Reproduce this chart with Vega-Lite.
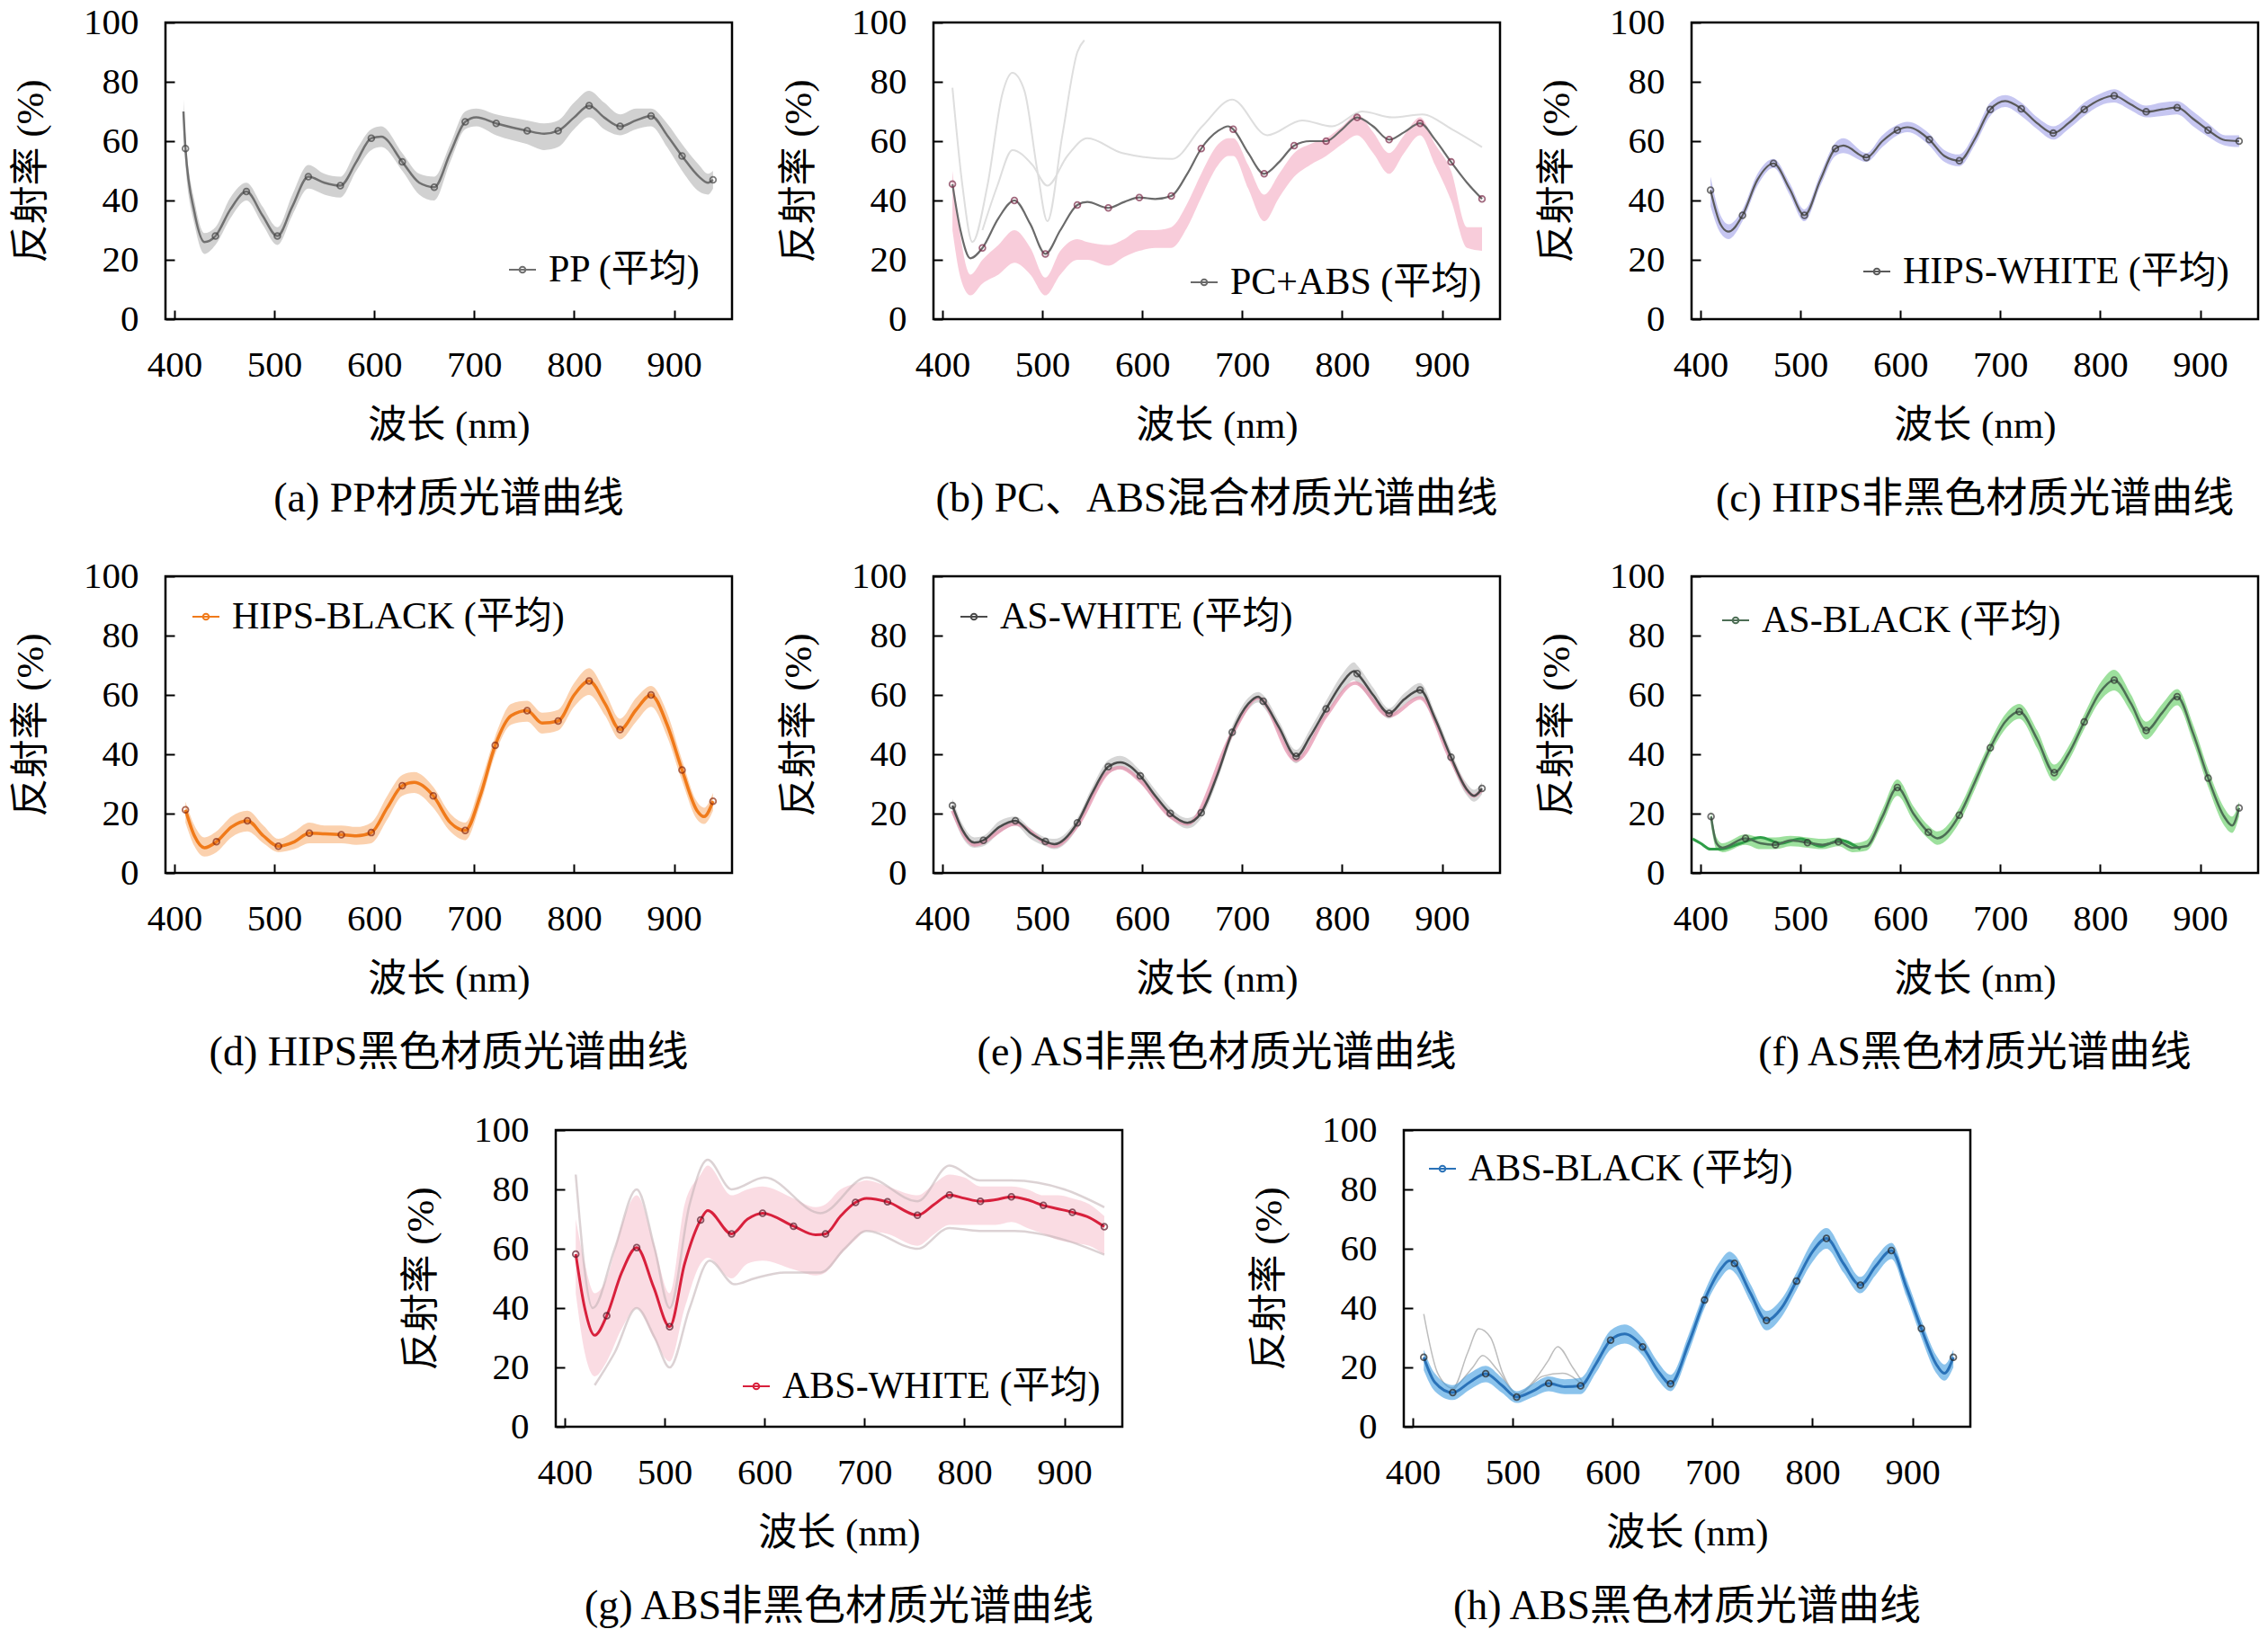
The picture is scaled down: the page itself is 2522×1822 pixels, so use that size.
{
  "$schema": "https://vega.github.io/schema/vega-lite/v6.json",
  "background": "white",
  "padding": {"left": 12, "top": 2, "right": 5, "bottom": 5},
  "datasets": {
    "a": [
      {"w":409,"r":70,"lo":63,"hi":74,"m":0},{"w":411,"r":57.5,"lo":52,"hi":62,"m":1},{"w":420,"r":36,"lo":32,"hi":40,"m":0},
      {"w":430,"r":26,"lo":22,"hi":29,"m":0},{"w":441,"r":28,"lo":25,"hi":31,"m":1},{"w":456,"r":37,"lo":34,"hi":41,"m":0},
      {"w":472,"r":43,"lo":40,"hi":46,"m":1},{"w":488,"r":35,"lo":32,"hi":38,"m":0},{"w":503,"r":28,"lo":25,"hi":31,"m":1},
      {"w":518,"r":38,"lo":35,"hi":42,"m":0},{"w":534,"r":48,"lo":44,"hi":52,"m":1},{"w":550,"r":46,"lo":42,"hi":49,"m":0},
      {"w":566,"r":45,"lo":41,"hi":48,"m":1},{"w":582,"r":53,"lo":50,"hi":57,"m":0},{"w":597,"r":61,"lo":57,"hi":64,"m":1},
      {"w":607,"r":61.5,"lo":58,"hi":65,"m":0},{"w":628,"r":53,"lo":50,"hi":56,"m":1},{"w":645,"r":46,"lo":42,"hi":49,"m":0},
      {"w":660,"r":44.5,"lo":40,"hi":48,"m":1},{"w":676,"r":56,"lo":53,"hi":59,"m":0},{"w":691,"r":66.5,"lo":64,"hi":70,"m":1},
      {"w":702,"r":68,"lo":65,"hi":71,"m":0},{"w":722,"r":66,"lo":62,"hi":69,"m":1},{"w":753,"r":63.5,"lo":59,"hi":67,"m":1},
      {"w":770,"r":62.5,"lo":57,"hi":66,"m":0},{"w":784,"r":63.5,"lo":58,"hi":67,"m":1},{"w":800,"r":68,"lo":64,"hi":73,"m":0},
      {"w":815,"r":72,"lo":68,"hi":77,"m":1},{"w":830,"r":68,"lo":64,"hi":73,"m":0},{"w":846,"r":65,"lo":62,"hi":69,"m":1},
      {"w":862,"r":67,"lo":64,"hi":71,"m":0},{"w":877,"r":68.5,"lo":65,"hi":71,"m":1},{"w":893,"r":62,"lo":58,"hi":66,"m":0},
      {"w":908,"r":55,"lo":50,"hi":59,"m":1},{"w":925,"r":48,"lo":43,"hi":52,"m":0},{"w":934,"r":46,"lo":42,"hi":49,"m":0},
      {"w":939,"r":47,"lo":44,"hi":50,"m":1}
    ],
    "b": [
      {"w":410,"r":45.5,"lo":30,"hi":50,"m":1},{"w":418,"r":30,"lo":14,"hi":28,"m":0},{"w":428,"r":20.5,"lo":8,"hi":15,"m":0},
      {"w":440,"r":24,"lo":12,"hi":20,"m":1},{"w":456,"r":34,"lo":15,"hi":25,"m":0},{"w":472,"r":40,"lo":19,"hi":30,"m":1},
      {"w":488,"r":32,"lo":15,"hi":24,"m":0},{"w":503,"r":22,"lo":8,"hi":14,"m":1},{"w":518,"r":30,"lo":15,"hi":23,"m":0},
      {"w":535,"r":38.5,"lo":20,"hi":27,"m":1},{"w":545,"r":39.5,"lo":20,"hi":26,"m":0},{"w":566,"r":37.5,"lo":18,"hi":25,"m":1},
      {"w":582,"r":39.5,"lo":21,"hi":27,"m":0},{"w":597,"r":41,"lo":23,"hi":30,"m":1},{"w":613,"r":40.5,"lo":24,"hi":30,"m":0},
      {"w":629,"r":41.5,"lo":24,"hi":31,"m":1},{"w":645,"r":49,"lo":31,"hi":39,"m":0},{"w":659,"r":57.5,"lo":41,"hi":49,"m":1},
      {"w":676,"r":63.5,"lo":52,"hi":59,"m":0},{"w":686,"r":65,"lo":55,"hi":61,"m":0},{"w":691,"r":64,"lo":55,"hi":61,"m":1},
      {"w":706,"r":56,"lo":44,"hi":52,"m":0},{"w":722,"r":49,"lo":33,"hi":42,"m":1},{"w":737,"r":53,"lo":41,"hi":49,"m":0},
      {"w":752,"r":58.5,"lo":48,"hi":56,"m":1},{"w":768,"r":60,"lo":52,"hi":59,"m":0},{"w":784,"r":60,"lo":55,"hi":61,"m":1},
      {"w":800,"r":64,"lo":59,"hi":65,"m":0},{"w":815,"r":68,"lo":62,"hi":69,"m":1},{"w":831,"r":65,"lo":56,"hi":63,"m":0},
      {"w":847,"r":60.5,"lo":49,"hi":56,"m":1},{"w":862,"r":63,"lo":56,"hi":62,"m":0},{"w":878,"r":66,"lo":62,"hi":68,"m":1},
      {"w":893,"r":60.5,"lo":52,"hi":59,"m":0},{"w":909,"r":53,"lo":40,"hi":50,"m":1},{"w":925,"r":46,"lo":24,"hi":31,"m":0},
      {"w":940,"r":40.5,"lo":23,"hi":31,"m":1}
    ],
    "b_s": [
      {"s":"u1","w":410,"r":78},{"s":"u1","w":420,"r":45},{"s":"u1","w":430,"r":26},{"s":"u1","w":445,"r":45},{"s":"u1","w":460,"r":76},
      {"s":"u1","w":470,"r":83},{"s":"u1","w":482,"r":77},{"s":"u1","w":495,"r":50},{"s":"u1","w":505,"r":33},{"s":"u1","w":520,"r":62},
      {"s":"u1","w":535,"r":90},{"s":"u1","w":542,"r":94},
      {"s":"u2","w":440,"r":30},{"s":"u2","w":455,"r":45},{"s":"u2","w":470,"r":57},{"s":"u2","w":490,"r":52},{"s":"u2","w":505,"r":45},
      {"s":"u2","w":525,"r":55},{"s":"u2","w":545,"r":61},{"s":"u2","w":580,"r":56},{"s":"u2","w":630,"r":54},{"s":"u2","w":660,"r":65},
      {"s":"u2","w":690,"r":74},{"s":"u2","w":725,"r":62},{"s":"u2","w":760,"r":67},{"s":"u2","w":790,"r":65},{"s":"u2","w":820,"r":70},
      {"s":"u2","w":850,"r":68},{"s":"u2","w":880,"r":69},{"s":"u2","w":910,"r":64},{"s":"u2","w":940,"r":58}
    ],
    "c": [
      {"w":410,"r":43.5,"lo":38,"hi":48,"m":1},{"w":420,"r":32,"lo":29,"hi":35,"m":0},{"w":428,"r":29.5,"lo":27,"hi":32,"m":0},
      {"w":442,"r":35,"lo":33,"hi":37,"m":1},{"w":457,"r":47,"lo":45,"hi":49,"m":0},{"w":473,"r":52.5,"lo":51,"hi":54,"m":1},
      {"w":489,"r":44,"lo":42,"hi":46,"m":0},{"w":504,"r":35,"lo":33,"hi":37,"m":1},{"w":520,"r":47,"lo":45,"hi":49,"m":0},
      {"w":535,"r":57.5,"lo":55,"hi":59.5,"m":1},{"w":543,"r":58.5,"lo":56,"hi":61,"m":0},{"w":566,"r":54.5,"lo":53,"hi":56,"m":1},
      {"w":582,"r":60,"lo":58,"hi":62,"m":0},{"w":597,"r":63.7,"lo":62,"hi":65.5,"m":1},{"w":607,"r":64.7,"lo":63,"hi":66.5,"m":0},
      {"w":629,"r":60.5,"lo":58.5,"hi":62.5,"m":1},{"w":644,"r":55,"lo":53,"hi":57,"m":0},{"w":659,"r":53.4,"lo":51.5,"hi":55.5,"m":1},
      {"w":675,"r":61,"lo":59,"hi":63,"m":0},{"w":690,"r":70.7,"lo":68.5,"hi":73,"m":1},{"w":705,"r":73.5,"lo":71.5,"hi":75.5,"m":0},
      {"w":721,"r":70.9,"lo":68.5,"hi":73,"m":1},{"w":737,"r":66,"lo":64,"hi":68,"m":0},{"w":753,"r":62.7,"lo":60.5,"hi":65,"m":1},
      {"w":768,"r":66,"lo":64,"hi":68,"m":0},{"w":784,"r":70.7,"lo":68.5,"hi":73,"m":1},{"w":800,"r":74,"lo":72,"hi":76,"m":0},
      {"w":814,"r":75.3,"lo":73,"hi":77.5,"m":1},{"w":830,"r":72.5,"lo":70.5,"hi":74.5,"m":0},{"w":846,"r":69.9,"lo":68,"hi":72,"m":1},
      {"w":862,"r":70.7,"lo":68.5,"hi":73,"m":0},{"w":877,"r":71.3,"lo":69,"hi":73.5,"m":1},{"w":893,"r":67.5,"lo":65,"hi":70,"m":0},
      {"w":908,"r":63.7,"lo":61.5,"hi":66,"m":1},{"w":925,"r":60.3,"lo":58.5,"hi":62,"m":0},{"w":939,"r":60,"lo":58,"hi":62,"m":1}
    ],
    "d": [
      {"w":411,"r":21.3,"lo":17,"hi":24,"m":1},{"w":420,"r":12.5,"lo":9,"hi":16,"m":0},{"w":430,"r":8.5,"lo":5.5,"hi":12,"m":0},
      {"w":442,"r":10.5,"lo":7,"hi":14,"m":1},{"w":457,"r":15.5,"lo":12,"hi":19,"m":0},{"w":473,"r":17.6,"lo":14,"hi":21,"m":1},
      {"w":489,"r":12.5,"lo":10,"hi":16,"m":0},{"w":504,"r":9,"lo":7,"hi":11.5,"m":1},{"w":520,"r":10.5,"lo":8,"hi":14,"m":0},
      {"w":535,"r":13.4,"lo":10,"hi":17,"m":1},{"w":550,"r":13.2,"lo":10,"hi":16,"m":0},{"w":567,"r":12.9,"lo":10,"hi":16,"m":1},
      {"w":582,"r":12.5,"lo":9.5,"hi":15.5,"m":0},{"w":597,"r":13.6,"lo":10,"hi":17,"m":1},{"w":613,"r":22,"lo":18,"hi":26,"m":0},
      {"w":628,"r":29.4,"lo":26,"hi":33,"m":1},{"w":640,"r":30.5,"lo":27,"hi":34,"m":0},{"w":659,"r":26,"lo":22,"hi":29,"m":1},
      {"w":676,"r":17,"lo":14,"hi":20,"m":0},{"w":691,"r":14.3,"lo":11,"hi":17,"m":1},{"w":706,"r":26,"lo":23,"hi":30,"m":0},
      {"w":721,"r":43,"lo":40,"hi":46,"m":1},{"w":737,"r":53,"lo":50,"hi":57,"m":0},{"w":753,"r":54.7,"lo":51,"hi":58,"m":1},
      {"w":768,"r":50.5,"lo":47,"hi":54,"m":0},{"w":784,"r":51.2,"lo":48,"hi":55,"m":1},{"w":800,"r":60,"lo":56,"hi":64,"m":0},
      {"w":815,"r":64.7,"lo":60,"hi":69,"m":1},{"w":831,"r":57,"lo":53,"hi":61,"m":0},{"w":846,"r":48.3,"lo":45,"hi":52,"m":1},
      {"w":862,"r":55,"lo":51,"hi":59,"m":0},{"w":877,"r":60,"lo":56,"hi":63,"m":1},{"w":893,"r":50,"lo":46,"hi":54,"m":0},
      {"w":908,"r":34.7,"lo":31,"hi":38,"m":1},{"w":923,"r":21,"lo":18,"hi":24,"m":0},{"w":930,"r":19,"lo":16.5,"hi":22,"m":0},
      {"w":939,"r":24.2,"lo":21,"hi":27,"m":1}
    ],
    "e": [
      {"w":410,"r":22.7,"lo":20,"hi":25,"m":1},{"w":420,"r":14.5,"lo":12,"hi":16.5,"m":0},{"w":432,"r":10.2,"lo":8.5,"hi":12,"m":0},
      {"w":441,"r":11,"lo":9,"hi":12.5,"m":1},{"w":457,"r":15.5,"lo":13.5,"hi":17.5,"m":0},{"w":473,"r":17.6,"lo":16,"hi":19,"m":1},
      {"w":488,"r":13.5,"lo":11.5,"hi":15,"m":0},{"w":503,"r":10.6,"lo":9,"hi":12,"m":1},{"w":512,"r":9.7,"lo":8,"hi":11.5,"m":0},
      {"w":535,"r":16.9,"lo":15,"hi":18.5,"m":1},{"w":550,"r":27,"lo":25,"hi":29,"m":0},{"w":566,"r":35.8,"lo":33.5,"hi":38,"m":1},
      {"w":578,"r":37.3,"lo":35,"hi":39.5,"m":0},{"w":598,"r":32.7,"lo":30.5,"hi":34.5,"m":1},{"w":613,"r":26,"lo":24,"hi":28,"m":0},
      {"w":628,"r":20.1,"lo":18.5,"hi":22,"m":1},{"w":645,"r":16.9,"lo":15,"hi":18.5,"m":0},{"w":659,"r":20.3,"lo":18.5,"hi":22,"m":1},
      {"w":675,"r":33,"lo":31,"hi":35,"m":0},{"w":690,"r":47.4,"lo":45.5,"hi":49.5,"m":1},{"w":706,"r":57,"lo":55,"hi":59,"m":0},
      {"w":716,"r":59.4,"lo":57.5,"hi":61,"m":0},{"w":721,"r":57.9,"lo":56,"hi":60,"m":1},{"w":737,"r":49,"lo":47,"hi":51,"m":0},
      {"w":754,"r":39.3,"lo":37,"hi":41.5,"m":1},{"w":768,"r":46,"lo":44,"hi":48.5,"m":0},{"w":784,"r":55.3,"lo":53,"hi":58,"m":1},
      {"w":800,"r":64,"lo":61,"hi":67,"m":0},{"w":812,"r":68,"lo":65,"hi":71,"m":0},{"w":815,"r":67.2,"lo":64,"hi":70,"m":1},
      {"w":831,"r":60,"lo":57.5,"hi":62.5,"m":0},{"w":847,"r":53.8,"lo":52,"hi":55.5,"m":1},{"w":862,"r":58.5,"lo":56.5,"hi":60.5,"m":0},
      {"w":878,"r":61.7,"lo":59,"hi":64,"m":1},{"w":893,"r":52,"lo":50,"hi":54,"m":0},{"w":909,"r":39,"lo":37,"hi":41,"m":1},
      {"w":924,"r":28.5,"lo":26.5,"hi":30.5,"m":0},{"w":932,"r":26,"lo":24,"hi":28,"m":0},{"w":940,"r":28.5,"lo":26.5,"hi":30.5,"m":1}
    ],
    "e_s": [
      {"s":"p","w":410,"r":21},{"s":"p","w":432,"r":9.5},{"s":"p","w":473,"r":16.5},{"s":"p","w":512,"r":9},{"s":"p","w":535,"r":16},
      {"s":"p","w":566,"r":34},{"s":"p","w":578,"r":35.5},{"s":"p","w":598,"r":31},{"s":"p","w":628,"r":19},{"s":"p","w":645,"r":16.5},
      {"s":"p","w":690,"r":47},{"s":"p","w":716,"r":59},{"s":"p","w":754,"r":38},{"s":"p","w":784,"r":53},{"s":"p","w":813,"r":64},
      {"s":"p","w":847,"r":53},{"s":"p","w":878,"r":59},{"s":"p","w":909,"r":38},{"s":"p","w":932,"r":26},{"s":"p","w":940,"r":28}
    ],
    "f": [
      {"w":410.5,"r":19,"lo":16,"hi":21,"m":1},{"w":416,"r":10,"lo":8,"hi":12,"m":0},{"w":422,"r":8.5,"lo":7,"hi":10,"m":0},
      {"w":445,"r":11.7,"lo":9.5,"hi":13,"m":1},{"w":460,"r":10,"lo":8,"hi":12,"m":0},{"w":475,"r":9.5,"lo":8,"hi":12,"m":1},
      {"w":490,"r":11,"lo":9,"hi":12.5,"m":0},{"w":507,"r":10.2,"lo":8.5,"hi":12,"m":1},{"w":522,"r":9.5,"lo":8,"hi":11.5,"m":0},
      {"w":538,"r":10.5,"lo":9,"hi":12,"m":1},{"w":552,"r":8.5,"lo":7,"hi":10,"m":0},{"w":566,"r":9,"lo":7.5,"hi":11,"m":0},
      {"w":582,"r":19,"lo":16.5,"hi":21.5,"m":0},{"w":597,"r":28.8,"lo":26,"hi":31.5,"m":1},{"w":613,"r":20,"lo":17.5,"hi":22.5,"m":0},
      {"w":628,"r":13.7,"lo":11.5,"hi":16,"m":1},{"w":637,"r":11.7,"lo":9.5,"hi":14,"m":0},{"w":659,"r":19.5,"lo":17,"hi":22,"m":1},
      {"w":675,"r":31,"lo":28.5,"hi":33.5,"m":0},{"w":690,"r":42.2,"lo":40,"hi":44.5,"m":1},{"w":705,"r":51,"lo":48.5,"hi":53.5,"m":0},
      {"w":719,"r":54.4,"lo":52,"hi":57,"m":1},{"w":737,"r":45,"lo":42,"hi":48,"m":0},{"w":754,"r":33.8,"lo":31,"hi":36.5,"m":1},
      {"w":768,"r":40,"lo":37.5,"hi":42.5,"m":0},{"w":784,"r":50.9,"lo":48.5,"hi":53.5,"m":1},{"w":800,"r":61,"lo":58,"hi":64,"m":0},
      {"w":814,"r":65,"lo":61.5,"hi":68.5,"m":1},{"w":831,"r":57,"lo":54,"hi":60,"m":0},{"w":846,"r":48,"lo":45,"hi":51,"m":1},
      {"w":862,"r":54,"lo":51,"hi":57,"m":0},{"w":877,"r":59.4,"lo":56.5,"hi":62,"m":1},{"w":893,"r":47,"lo":44,"hi":50,"m":0},
      {"w":908,"r":32,"lo":29,"hi":35,"m":1},{"w":924,"r":19,"lo":16,"hi":22,"m":0},{"w":932,"r":16,"lo":13.5,"hi":19,"m":0},
      {"w":939,"r":21.9,"lo":19,"hi":24,"m":1}
    ],
    "f_s": [
      {"s":"g1","w":392,"r":11.5},{"s":"g1","w":400,"r":10},{"s":"g1","w":410,"r":8},{"s":"g1","w":420,"r":8},{"s":"g1","w":440,"r":10},
      {"s":"g1","w":460,"r":12},{"s":"g1","w":480,"r":10},{"s":"g1","w":500,"r":11.5},{"s":"g1","w":520,"r":9},{"s":"g1","w":540,"r":11},
      {"s":"g1","w":560,"r":8}
    ],
    "g": [
      {"w":411,"r":58.2,"lo":45,"hi":70,"m":1},{"w":420,"r":40,"lo":25,"hi":55,"m":0},{"w":430,"r":30.8,"lo":17,"hi":45,"m":0},
      {"w":442,"r":37.4,"lo":22,"hi":50,"m":1},{"w":457,"r":52,"lo":33,"hi":68,"m":0},{"w":472,"r":60.4,"lo":40,"hi":78,"m":1},
      {"w":489,"r":47,"lo":30,"hi":62,"m":0},{"w":505,"r":33.7,"lo":22,"hi":45,"m":1},{"w":520,"r":55,"lo":40,"hi":75,"m":0},
      {"w":536,"r":69.7,"lo":55,"hi":85,"m":1},{"w":543,"r":72.9,"lo":57,"hi":88,"m":0},{"w":567,"r":65,"lo":50,"hi":78,"m":1},
      {"w":583,"r":70,"lo":55,"hi":80,"m":0},{"w":598,"r":72,"lo":56,"hi":81,"m":1},{"w":629,"r":67.6,"lo":53,"hi":77,"m":1},
      {"w":651,"r":64.7,"lo":51,"hi":74,"m":0},{"w":661,"r":65,"lo":52,"hi":75,"m":1},{"w":676,"r":71,"lo":58,"hi":80,"m":0},
      {"w":691,"r":75.6,"lo":63,"hi":82,"m":1},{"w":702,"r":77,"lo":66,"hi":83,"m":0},{"w":723,"r":75.8,"lo":65,"hi":81,"m":1},
      {"w":753,"r":71.3,"lo":61,"hi":78,"m":1},{"w":770,"r":75,"lo":65,"hi":82,"m":0},{"w":785,"r":78.1,"lo":68,"hi":85,"m":1},
      {"w":800,"r":77,"lo":68,"hi":84,"m":0},{"w":816,"r":76,"lo":68,"hi":81,"m":1},{"w":831,"r":76.5,"lo":68,"hi":81,"m":0},
      {"w":847,"r":77.5,"lo":69,"hi":81,"m":1},{"w":863,"r":76.5,"lo":67,"hi":80,"m":0},{"w":879,"r":74.6,"lo":65,"hi":78,"m":1},
      {"w":893,"r":73.5,"lo":63,"hi":78,"m":0},{"w":908,"r":72.3,"lo":62,"hi":77,"m":1},{"w":925,"r":70.5,"lo":61,"hi":75,"m":0},
      {"w":940,"r":67.4,"lo":58,"hi":71,"m":1}
    ],
    "g_s": [
      {"s":"gl","w":430,"r":14},{"s":"gl","w":450,"r":25},{"s":"gl","w":472,"r":40},{"s":"gl","w":490,"r":30},{"s":"gl","w":505,"r":20},
      {"s":"gl","w":525,"r":40},{"s":"gl","w":545,"r":56},{"s":"gl","w":570,"r":48},{"s":"gl","w":590,"r":50},{"s":"gl","w":620,"r":52},
      {"s":"gl","w":656,"r":52},{"s":"gl","w":680,"r":60},{"s":"gl","w":702,"r":66},{"s":"gl","w":753,"r":60},{"s":"gl","w":785,"r":67},
      {"s":"gl","w":815,"r":66},{"s":"gl","w":850,"r":66},{"s":"gl","w":900,"r":63},{"s":"gl","w":940,"r":58},
      {"s":"gu","w":411,"r":85},{"s":"gu","w":428,"r":40},{"s":"gu","w":450,"r":60},{"s":"gu","w":472,"r":80},{"s":"gu","w":490,"r":60},
      {"s":"gu","w":505,"r":40},{"s":"gu","w":525,"r":75},{"s":"gu","w":543,"r":90},{"s":"gu","w":567,"r":80},{"s":"gu","w":600,"r":84},
      {"s":"gu","w":656,"r":72},{"s":"gu","w":702,"r":84},{"s":"gu","w":753,"r":76},{"s":"gu","w":785,"r":88},{"s":"gu","w":815,"r":83},
      {"s":"gu","w":847,"r":83},{"s":"gu","w":900,"r":80},{"s":"gu","w":940,"r":74}
    ],
    "h": [
      {"w":411,"r":23.4,"lo":19,"hi":26,"m":1},{"w":422,"r":15,"lo":12,"hi":18,"m":0},{"w":440,"r":11.5,"lo":9,"hi":14,"m":1},
      {"w":457,"r":15,"lo":12.5,"hi":18,"m":0},{"w":473,"r":17.9,"lo":15,"hi":20.5,"m":1},{"w":489,"r":14,"lo":11.5,"hi":16.5,"m":0},
      {"w":504,"r":10,"lo":8,"hi":12,"m":1},{"w":520,"r":12,"lo":10,"hi":14.5,"m":0},{"w":536,"r":14.6,"lo":12,"hi":17,"m":1},
      {"w":552,"r":13.5,"lo":11,"hi":16,"m":0},{"w":568,"r":13.8,"lo":11,"hi":16.5,"m":1},{"w":583,"r":21,"lo":18,"hi":24,"m":0},
      {"w":598,"r":29.2,"lo":26,"hi":32.5,"m":1},{"w":612,"r":31.3,"lo":28,"hi":34.5,"m":0},{"w":630,"r":26.9,"lo":24,"hi":30,"m":1},
      {"w":645,"r":19,"lo":16,"hi":22,"m":0},{"w":658,"r":14.5,"lo":12,"hi":17.5,"m":1},{"w":676,"r":28,"lo":25,"hi":31,"m":0},
      {"w":692,"r":42.7,"lo":40,"hi":45.5,"m":1},{"w":708,"r":53,"lo":50,"hi":56,"m":0},{"w":717,"r":56,"lo":53,"hi":59,"m":0},
      {"w":722,"r":55.1,"lo":52,"hi":58,"m":1},{"w":738,"r":45,"lo":42,"hi":48,"m":0},{"w":754,"r":35.8,"lo":32.5,"hi":39,"m":1},
      {"w":769,"r":40,"lo":37,"hi":43,"m":0},{"w":784,"r":49.1,"lo":46,"hi":52,"m":1},{"w":800,"r":59,"lo":55.5,"hi":62.5,"m":0},
      {"w":814,"r":63.5,"lo":60,"hi":67,"m":1},{"w":831,"r":55,"lo":52,"hi":58.5,"m":0},{"w":848,"r":47.7,"lo":45,"hi":50.5,"m":1},
      {"w":863,"r":54,"lo":51,"hi":57,"m":0},{"w":879,"r":59.4,"lo":56.5,"hi":62,"m":1},{"w":894,"r":47,"lo":44,"hi":50,"m":0},
      {"w":909,"r":33.1,"lo":30,"hi":36,"m":1},{"w":924,"r":21,"lo":18,"hi":24,"m":0},{"w":932,"r":18,"lo":15.5,"hi":21,"m":0},
      {"w":941,"r":23.4,"lo":20,"hi":26,"m":1}
    ],
    "h_s": [
      {"s":"s1","w":411,"r":38},{"s":"s1","w":425,"r":18},{"s":"s1","w":440,"r":13},{"s":"s1","w":455,"r":25},{"s":"s1","w":466,"r":33},
      {"s":"s1","w":478,"r":30},{"s":"s1","w":490,"r":18},{"s":"s1","w":505,"r":11},{"s":"s1","w":520,"r":15},{"s":"s1","w":535,"r":22},
      {"s":"s1","w":545,"r":27},{"s":"s1","w":560,"r":20},{"s":"s1","w":570,"r":15},
      {"s":"s2","w":440,"r":12},{"s":"s2","w":460,"r":20},{"s":"s2","w":470,"r":24},{"s":"s2","w":485,"r":19},{"s":"s2","w":505,"r":11},
      {"s":"s2","w":530,"r":17},{"s":"s2","w":550,"r":18},{"s":"s2","w":570,"r":14}
    ]
  },
  "vconcat": [
    {
      "hconcat": [
        {
          "width": 630, "height": 330,
          "title": "(a) PP材质光谱曲线",
          "data": {"name": "a"},
          "encoding": {
            "x": {"field": "w", "type": "quantitative", "title": "波长 (nm)", "scale": {"domain": [391, 958], "nice": false, "zero": false}, "axis": {"values": [400, 500, 600, 700, 800, 900]}},
            "y": {"field": "r", "type": "quantitative", "title": "反射率 (%)", "scale": {"domain": [0, 100], "nice": false}, "axis": {"values": [0, 20, 40, 60, 80, 100]}}
          },
          "layer": [
            {"mark": {"type": "area", "interpolate": "monotone", "color": "#9a9a9a", "opacity": 0.45},
             "encoding": {"y": {"field": "lo", "type": "quantitative", "title": "反射率 (%)", "scale": {"domain": [0, 100], "nice": false}, "axis": {"values": [0, 20, 40, 60, 80, 100]}}, "y2": {"field": "hi"}}},
            {"mark": {"type": "line", "interpolate": "monotone", "strokeWidth": 2.5},
             "encoding": {"color": {"datum": "PP (平均)", "type": "nominal", "scale": {"range": ["#707070"]}, "legend": {"orient": "bottom-right", "title": null, "offset": 34}}}},
            {"transform": [{"filter": "datum.m == 1"}], "mark": {"type": "point", "shape": "circle", "filled": false, "size": 45, "strokeWidth": 1.8, "color": "#444444"}}
          ]
        },
        {
          "hconcat": [
            {
              "width": 630, "height": 330,
              "title": "(b) PC、ABS混合材质光谱曲线",
              "data": {"name": "b"},
              "encoding": {
                "x": {"field": "w", "type": "quantitative", "title": "波长 (nm)", "scale": {"domain": [391, 958], "nice": false, "zero": false}, "axis": {"values": [400, 500, 600, 700, 800, 900]}},
                "y": {"field": "r", "type": "quantitative", "title": "反射率 (%)", "scale": {"domain": [0, 100], "nice": false}, "axis": {"values": [0, 20, 40, 60, 80, 100]}}
              },
              "layer": [
                {"data": {"name": "b_s"}, "mark": {"type": "line", "interpolate": "monotone", "color": "#dedede", "strokeWidth": 2},
                 "encoding": {"detail": {"field": "s", "type": "nominal"}}},
                {"mark": {"type": "area", "interpolate": "monotone", "color": "#f08fae", "opacity": 0.45},
                 "encoding": {"y": {"field": "lo", "type": "quantitative", "title": "反射率 (%)", "scale": {"domain": [0, 100], "nice": false}, "axis": {"values": [0, 20, 40, 60, 80, 100]}}, "y2": {"field": "hi"}}},
                {"mark": {"type": "line", "interpolate": "monotone", "strokeWidth": 2.2},
                 "encoding": {"color": {"datum": "PC+ABS (平均)", "type": "nominal", "scale": {"range": ["#6a6a6a"]}, "legend": {"orient": "bottom-right", "title": null, "offset": 20}}}},
                {"transform": [{"filter": "datum.m == 1"}], "mark": {"type": "point", "shape": "circle", "filled": false, "size": 45, "strokeWidth": 1.8, "color": "#7a2a48"}}
              ]
            },
            {
              "width": 630, "height": 330,
              "title": "(c) HIPS非黑色材质光谱曲线",
              "data": {"name": "c"},
              "encoding": {
                "x": {"field": "w", "type": "quantitative", "title": "波长 (nm)", "scale": {"domain": [391, 958], "nice": false, "zero": false}, "axis": {"values": [400, 500, 600, 700, 800, 900]}},
                "y": {"field": "r", "type": "quantitative", "title": "反射率 (%)", "scale": {"domain": [0, 100], "nice": false}, "axis": {"values": [0, 20, 40, 60, 80, 100]}}
              },
              "layer": [
                {"mark": {"type": "area", "interpolate": "monotone", "color": "#8080e0", "opacity": 0.45},
                 "encoding": {"y": {"field": "lo", "type": "quantitative", "title": "反射率 (%)", "scale": {"domain": [0, 100], "nice": false}, "axis": {"values": [0, 20, 40, 60, 80, 100]}}, "y2": {"field": "hi"}}},
                {"mark": {"type": "line", "interpolate": "monotone", "strokeWidth": 2.2},
                 "encoding": {"color": {"datum": "HIPS-WHITE (平均)", "type": "nominal", "scale": {"range": ["#5a5a5a"]}, "legend": {"orient": "bottom-right", "title": null, "offset": 32}}}},
                {"transform": [{"filter": "datum.m == 1"}], "mark": {"type": "point", "shape": "circle", "filled": false, "size": 45, "strokeWidth": 1.8, "color": "#333333"}}
              ]
            }
          ],
          "spacing": 39,
          "resolve": {"scale": {"color": "independent"}, "legend": {"color": "independent"}}
        }
      ],
      "spacing": 50,
      "resolve": {"scale": {"color": "independent"}, "legend": {"color": "independent"}}
    },
    {
      "hconcat": [
        {
          "width": 630, "height": 330,
          "title": "(d) HIPS黑色材质光谱曲线",
          "data": {"name": "d"},
          "encoding": {
            "x": {"field": "w", "type": "quantitative", "title": "波长 (nm)", "scale": {"domain": [391, 958], "nice": false, "zero": false}, "axis": {"values": [400, 500, 600, 700, 800, 900]}},
            "y": {"field": "r", "type": "quantitative", "title": "反射率 (%)", "scale": {"domain": [0, 100], "nice": false}, "axis": {"values": [0, 20, 40, 60, 80, 100]}}
          },
          "layer": [
            {"mark": {"type": "area", "interpolate": "monotone", "color": "#f7ab6c", "opacity": 0.55},
             "encoding": {"y": {"field": "lo", "type": "quantitative", "title": "反射率 (%)", "scale": {"domain": [0, 100], "nice": false}, "axis": {"values": [0, 20, 40, 60, 80, 100]}}, "y2": {"field": "hi"}}},
            {"mark": {"type": "line", "interpolate": "monotone", "strokeWidth": 3.5},
             "encoding": {"color": {"datum": "HIPS-BLACK (平均)", "type": "nominal", "scale": {"range": ["#f07a1a"]}, "legend": {"orient": "top-left", "title": null, "offset": 24}}}},
            {"transform": [{"filter": "datum.m == 1"}], "mark": {"type": "point", "shape": "circle", "filled": false, "size": 45, "strokeWidth": 1.8, "color": "#8a2a10"}}
          ]
        },
        {
          "hconcat": [
            {
              "width": 630, "height": 330,
              "title": "(e) AS非黑色材质光谱曲线",
              "data": {"name": "e"},
              "encoding": {
                "x": {"field": "w", "type": "quantitative", "title": "波长 (nm)", "scale": {"domain": [391, 958], "nice": false, "zero": false}, "axis": {"values": [400, 500, 600, 700, 800, 900]}},
                "y": {"field": "r", "type": "quantitative", "title": "反射率 (%)", "scale": {"domain": [0, 100], "nice": false}, "axis": {"values": [0, 20, 40, 60, 80, 100]}}
              },
              "layer": [
                {"mark": {"type": "area", "interpolate": "monotone", "color": "#8a8a8a", "opacity": 0.35},
                 "encoding": {"y": {"field": "lo", "type": "quantitative", "title": "反射率 (%)", "scale": {"domain": [0, 100], "nice": false}, "axis": {"values": [0, 20, 40, 60, 80, 100]}}, "y2": {"field": "hi"}}},
                {"data": {"name": "e_s"}, "mark": {"type": "line", "interpolate": "monotone", "color": "#e58fab", "strokeWidth": 4, "opacity": 0.7},
                 "encoding": {"detail": {"field": "s", "type": "nominal"}}},
                {"mark": {"type": "line", "interpolate": "monotone", "strokeWidth": 2.5},
                 "encoding": {"color": {"datum": "AS-WHITE (平均)", "type": "nominal", "scale": {"range": ["#4a4a4a"]}, "legend": {"orient": "top-left", "title": null, "offset": 24}}}},
                {"transform": [{"filter": "datum.m == 1"}], "mark": {"type": "point", "shape": "circle", "filled": false, "size": 45, "strokeWidth": 1.8, "color": "#333333"}}
              ]
            },
            {
              "width": 630, "height": 330,
              "title": "(f) AS黑色材质光谱曲线",
              "data": {"name": "f"},
              "encoding": {
                "x": {"field": "w", "type": "quantitative", "title": "波长 (nm)", "scale": {"domain": [391, 958], "nice": false, "zero": false}, "axis": {"values": [400, 500, 600, 700, 800, 900]}},
                "y": {"field": "r", "type": "quantitative", "title": "反射率 (%)", "scale": {"domain": [0, 100], "nice": false}, "axis": {"values": [0, 20, 40, 60, 80, 100]}}
              },
              "layer": [
                {"mark": {"type": "area", "interpolate": "monotone", "color": "#4cc64c", "opacity": 0.55},
                 "encoding": {"y": {"field": "lo", "type": "quantitative", "title": "反射率 (%)", "scale": {"domain": [0, 100], "nice": false}, "axis": {"values": [0, 20, 40, 60, 80, 100]}}, "y2": {"field": "hi"}}},
                {"data": {"name": "f_s"}, "mark": {"type": "line", "interpolate": "monotone", "color": "#2f9e48", "strokeWidth": 3},
                 "encoding": {"detail": {"field": "s", "type": "nominal"}}},
                {"mark": {"type": "line", "interpolate": "monotone", "strokeWidth": 2.5},
                 "encoding": {"color": {"datum": "AS-BLACK (平均)", "type": "nominal", "scale": {"range": ["#4d6e55"]}, "legend": {"orient": "top-left", "title": null, "offset": 28}}}},
                {"transform": [{"filter": "datum.m == 1"}], "mark": {"type": "point", "shape": "circle", "filled": false, "size": 45, "strokeWidth": 1.8, "color": "#333333"}}
              ]
            }
          ],
          "spacing": 39,
          "resolve": {"scale": {"color": "independent"}, "legend": {"color": "independent"}}
        }
      ],
      "spacing": 50,
      "resolve": {"scale": {"color": "independent"}, "legend": {"color": "independent"}}
    },
    {
      "hconcat": [
        {"width": 123, "height": 330, "view": {"stroke": null}, "data": {"values": []}, "mark": "point"},
        {
          "width": 630, "height": 330,
          "title": "(g) ABS非黑色材质光谱曲线",
          "data": {"name": "g"},
          "encoding": {
            "x": {"field": "w", "type": "quantitative", "title": "波长 (nm)", "scale": {"domain": [391, 958], "nice": false, "zero": false}, "axis": {"values": [400, 500, 600, 700, 800, 900]}},
            "y": {"field": "r", "type": "quantitative", "title": "反射率 (%)", "scale": {"domain": [0, 100], "nice": false}, "axis": {"values": [0, 20, 40, 60, 80, 100]}}
          },
          "layer": [
            {"mark": {"type": "area", "interpolate": "monotone", "color": "#f29aae", "opacity": 0.35},
             "encoding": {"y": {"field": "lo", "type": "quantitative", "title": "反射率 (%)", "scale": {"domain": [0, 100], "nice": false}, "axis": {"values": [0, 20, 40, 60, 80, 100]}}, "y2": {"field": "hi"}}},
            {"data": {"name": "g_s"}, "mark": {"type": "line", "interpolate": "monotone", "color": "#c4b4b8", "strokeWidth": 2.5, "opacity": 0.6},
             "encoding": {"detail": {"field": "s", "type": "nominal"}}},
            {"mark": {"type": "line", "interpolate": "monotone", "strokeWidth": 3},
             "encoding": {"color": {"datum": "ABS-WHITE (平均)", "type": "nominal", "scale": {"range": ["#d8203c"]}, "legend": {"orient": "bottom-right", "title": null, "offset": 24}}}},
            {"transform": [{"filter": "datum.m == 1"}], "mark": {"type": "point", "shape": "circle", "filled": false, "size": 45, "strokeWidth": 1.8, "color": "#5a1a2a"}}
          ]
        },
        {
          "width": 630, "height": 330,
          "title": "(h) ABS黑色材质光谱曲线",
          "data": {"name": "h"},
          "encoding": {
            "x": {"field": "w", "type": "quantitative", "title": "波长 (nm)", "scale": {"domain": [391, 958], "nice": false, "zero": false}, "axis": {"values": [400, 500, 600, 700, 800, 900]}},
            "y": {"field": "r", "type": "quantitative", "title": "反射率 (%)", "scale": {"domain": [0, 100], "nice": false}, "axis": {"values": [0, 20, 40, 60, 80, 100]}}
          },
          "layer": [
            {"data": {"name": "h_s"}, "mark": {"type": "line", "interpolate": "monotone", "color": "#bdbdbd", "strokeWidth": 1.5},
             "encoding": {"detail": {"field": "s", "type": "nominal"}}},
            {"mark": {"type": "area", "interpolate": "monotone", "color": "#3d9be0", "opacity": 0.6},
             "encoding": {"y": {"field": "lo", "type": "quantitative", "title": "反射率 (%)", "scale": {"domain": [0, 100], "nice": false}, "axis": {"values": [0, 20, 40, 60, 80, 100]}}, "y2": {"field": "hi"}}},
            {"mark": {"type": "line", "interpolate": "monotone", "strokeWidth": 3},
             "encoding": {"color": {"datum": "ABS-BLACK (平均)", "type": "nominal", "scale": {"range": ["#2a72b8"]}, "legend": {"orient": "top-left", "title": null, "offset": 22}}}},
            {"transform": [{"filter": "datum.m == 1"}], "mark": {"type": "point", "shape": "circle", "filled": false, "size": 45, "strokeWidth": 1.8, "color": "#222222"}}
          ]
        }
      ],
      "spacing": 139,
      "resolve": {"scale": {"color": "independent"}, "legend": {"color": "independent"}}
    }
  ],
  "spacing": 38,
  "resolve": {"scale": {"color": "independent"}, "legend": {"color": "independent"}},
  "config": {
    "view": {"stroke": "#000000", "strokeWidth": 2.5},
    "axis": {
      "domain": false, "grid": false,
      "tickColor": "#000000", "tickWidth": 2, "tickSize": -10,
      "labelFont": "Liberation Serif, Noto Sans CJK SC", "labelFontSize": 41, "labelColor": "#000000",
      "titleFont": "Liberation Serif, Noto Sans CJK SC", "titleFontSize": 43, "titleFontWeight": "normal", "titleColor": "#000000"
    },
    "axisX": {"labelPadding": 41, "titlePadding": 26},
    "axisY": {"labelPadding": 40, "titlePadding": 36},
    "legend": {
      "labelFont": "Liberation Serif, Noto Sans CJK SC", "labelFontSize": 42, "labelColor": "#000000", "labelLimit": 0,
      "symbolType": "M-1,0H1M0.22,0A0.22,0.22,0,1,1,-0.22,0A0.22,0.22,0,1,1,0.22,0",
      "symbolSize": 900, "symbolStrokeWidth": 2, "padding": 0, "labelOffset": 8
    },
    "title": {
      "orient": "bottom", "anchor": "middle", "offset": 38,
      "font": "Liberation Serif, Noto Sans CJK SC", "fontSize": 46, "fontWeight": "normal", "color": "#000000"
    }
  }
}
